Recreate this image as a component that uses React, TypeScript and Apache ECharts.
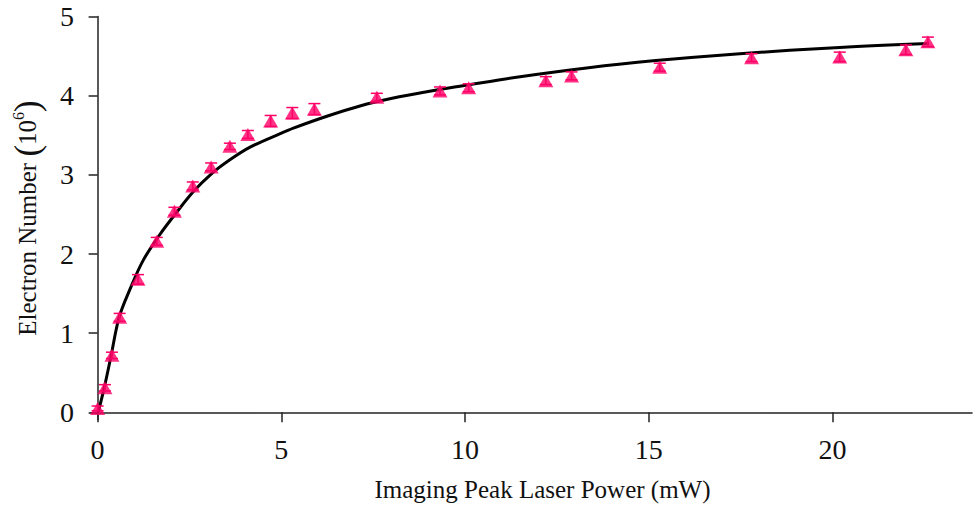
import React, { useEffect, useRef } from "react";
import * as echarts from "echarts";

const powerMW = [0, 0.2, 0.39, 0.6, 1.1, 1.61, 2.09, 2.59, 3.09, 3.6, 4.09, 4.71, 5.3, 5.9, 7.6, 9.32, 10.1, 12.2, 12.9, 15.3, 17.8, 20.2, 22.0, 22.6];
const electrons = [0.05, 0.31, 0.72, 1.2, 1.68, 2.16, 2.54, 2.86, 3.1, 3.36, 3.51, 3.68, 3.78, 3.83, 3.98, 4.06, 4.1, 4.19, 4.25, 4.36, 4.48, 4.49, 4.58, 4.68];
const errors = [0.03, 0.04, 0.04, 0.05, 0.06, 0.05, 0.05, 0.05, 0.05, 0.04, 0.05, 0.07, 0.07, 0.07, 0.05, 0.05, 0.05, 0.05, 0.05, 0.05, 0.05, 0.06, 0.06, 0.06];

const fitX = [0.02, 0.18, 0.36, 0.585, 0.876, 1.24, 1.7, 2.09, 2.59, 3.09, 3.6, 4.15, 4.97, 5.33, 6.24, 7.14, 8.05, 8.96, 9.86, 10.68, 11.5, 13.31, 15.12, 17.48, 20.2, 22.63];
const fitY = [0.01, 0.31, 0.7, 1.2, 1.55, 1.92, 2.25, 2.49, 2.78, 3.01, 3.19, 3.35, 3.52, 3.59, 3.74, 3.87, 3.97, 4.05, 4.12, 4.18, 4.24, 4.35, 4.44, 4.53, 4.61, 4.66];

const xTicks = [0, 5, 10, 15, 20];
const yTicks = [0, 1, 2, 3, 4, 5];

const PINK = "#FF0066";
const FONT = "'Liberation Serif', 'Times New Roman', serif";

export default function App() {
  const ref = useRef<HTMLDivElement>(null);
  useEffect(() => {
    if (!ref.current) return;
    const chart = echarts.init(ref.current, null, { renderer: "svg" });
    const axisLine = { show: true, lineStyle: { color: "#222", width: 1.5 } };
    chart.setOption({
      animation: false,
      backgroundColor: "#fff",
      grid: { left: 91, right: 1, top: 16.5, bottom: 88.5, containLabel: false },
      xAxis: {
        type: "value",
        min: -0.18,
        max: 23.8,
        axisLine,
        splitLine: { show: false },
        axisTick: { show: true, length: 10, customValues: xTicks, lineStyle: { color: "#222", width: 1.5 } },
        axisLabel: { customValues: xTicks, fontFamily: FONT, fontSize: 28, color: "#111", margin: 16 },
        name: "Imaging Peak Laser Power (mW)",
        nameLocation: "middle",
        nameGap: 57,
        nameTextStyle: { fontFamily: FONT, fontSize: 25, color: "#111", padding: [0, 0, 0, 22] },
      },
      yAxis: {
        type: "value",
        min: -0.09,
        max: 5,
        axisLine,
        splitLine: { show: false },
        axisTick: { show: true, length: 9, customValues: yTicks, lineStyle: { color: "#222", width: 1.5 } },
        axisLabel: { customValues: yTicks, fontFamily: FONT, fontSize: 28, color: "#111", margin: 17 },
        name: "Electron Number {p|(}10{s|6}{p|)}",
        nameLocation: "middle",
        nameGap: 46,
        nameTextStyle: {
          fontFamily: FONT,
          fontSize: 25,
          color: "#111",
          rich: {
            p: { fontFamily: FONT, fontSize: 35, color: "#111" },
            s: { fontFamily: FONT, fontSize: 16, color: "#111", verticalAlign: "top", padding: [0, 0, 14, 0] },
          },
        },
      },
      series: [
        {
          type: "line",
          data: fitX.map((x, i) => [x, fitY[i]]),
          smooth: 0.35,
          showSymbol: false,
          symbol: "none",
          lineStyle: { color: "#000", width: 3 },
          z: 3,
        },
        {
          type: "custom",
          data: powerMW.map((x, i) => [x, electrons[i] - errors[i], electrons[i] + errors[i]]),
          renderItem: (params: any, api: any) => {
            const lo = api.coord([api.value(0), api.value(1)]);
            const hi = api.coord([api.value(0), api.value(2)]);
            const hw = 6;
            const style = { stroke: PINK, lineWidth: 1.5 };
            return {
              type: "group",
              children: [
                { type: "line", shape: { x1: lo[0], y1: lo[1], x2: hi[0], y2: hi[1] }, style },
                { type: "line", shape: { x1: lo[0] - hw, y1: lo[1], x2: lo[0] + hw, y2: lo[1] }, style },
                { type: "line", shape: { x1: hi[0] - hw, y1: hi[1], x2: hi[0] + hw, y2: hi[1] }, style },
              ],
            };
          },
          z: 4,
        },
        {
          type: "scatter",
          data: powerMW.map((x, i) => [x, electrons[i]]),
          symbol: "triangle",
          symbolSize: [15, 13],
          itemStyle: { color: PINK },
          z: 5,
        },
      ],
    });
    return () => chart.dispose();
  }, []);
  return <div ref={ref} style={{ position: "fixed", left: 0, top: 0, width: 973, height: 508 }} />;
}
